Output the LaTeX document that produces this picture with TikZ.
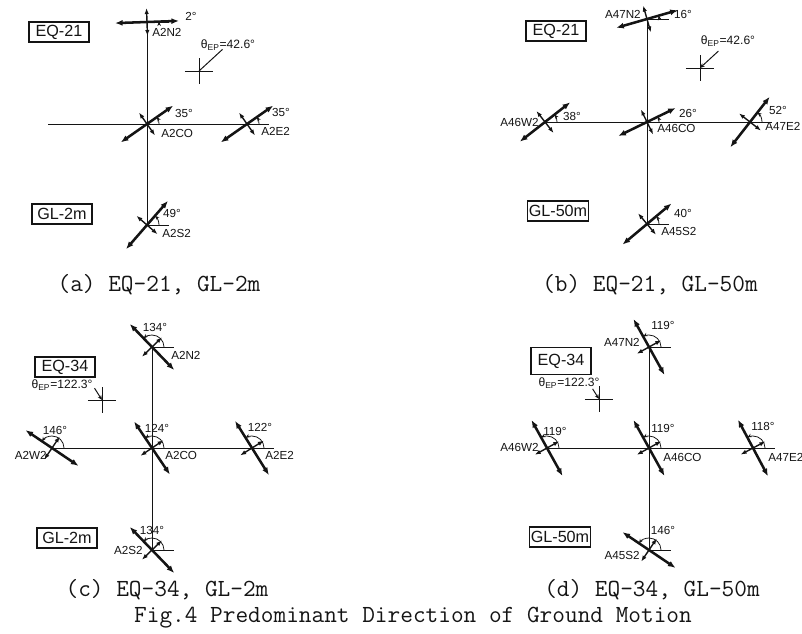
\documentclass[tikz,border=0pt]{standalone}
\usepackage{fontspec}
\newfontfamily\lblfont{Liberation Sans}
\usetikzlibrary{arrows.meta}
\definecolor{Ink}{HTML}{141414}
\tikzset{
  >=Latex,
  every node/.style={text=Ink},
  axisline/.style={draw=Ink, line width=0.7pt},
  majoraxis/.style={draw=Ink, line width=1.8pt,
    {Latex[length=1.9mm,width=1.5mm]}-{Latex[length=1.9mm,width=1.5mm]}},
  minoraxis/.style={draw=Ink, line width=1.0pt,
    {Latex[length=1.5mm,width=1.1mm]}-{Latex[length=1.5mm,width=1.1mm]}},
  anglearc/.style={draw=Ink, line width=0.55pt, -{Stealth[length=1.1mm,width=0.9mm]}},
  anglbl/.style={font=\lblfont\fontsize{8.3}{9}\selectfont, inner sep=0pt},
  stnlbl/.style={font=\lblfont\fontsize{8.3}{9}\selectfont, inner sep=0pt},
  eqbox/.style={draw=Ink, line width=0.8pt, font=\lblfont\fontsize{11.5}{12}\selectfont,
    minimum width=1.5cm, minimum height=0.5cm, inner sep=1pt},
  eplbl/.style={font=\lblfont\fontsize{8.6}{9}\selectfont, inner sep=0pt},
  epcross/.style={draw=Ink, line width=0.7pt},
  eparrow/.style={draw=Ink, line width=0.7pt, -{Stealth[length=1.2mm,width=1mm]}},
  caplbl/.style={font=\ttfamily\fontsize{17.5}{20}\selectfont, inner sep=0pt},
  pics/motion/.style args={#1/#2}{code={
    \draw[axisline] (0,0) -- (22,0);
    \draw[minoraxis] (#1+90:14) -- (#1-90:14);
    \draw[majoraxis] (#1+180:32) -- (#1:32);
    \draw[anglearc] (12,0) arc[start angle=0, end angle=#1, radius=12];
    \node[anglbl] (-ang) at (#2) {#1°};
  }},
}

\begin{document}
\begin{tikzpicture}[x=0.025cm,y=0.025cm]
  \useasboundingbox (0,0) rectangle (802,-633);

  % (a) EQ-21 recorded at GL-2m.
  \coordinate (aN) at (147,-22);
  \coordinate (aC) at (147,-124);
  \coordinate (aE) at (247,-124);
  \coordinate (aS) at (147,-225);
  \coordinate (aW) at (48,-124);
  \draw[axisline] (aN) -- (aS);
  \draw[axisline] (aW) -- (aE);
  \pic (aNm) at (aN) {motion={2/44,6}};
  \pic (aCm) at (aC) {motion={35/37,11}};
  \pic (aEm) at (aE) {motion={35/34,12}};
  \pic (aSm) at (aS) {motion={49/25,12}};
  \node[stnlbl, anchor=west] (aNl) at ([shift={(5,-10)}]aN) {A2N2};
  \node[stnlbl, anchor=west] (aCl) at ([shift={(14,-9)}]aC) {A2CO};
  \node[stnlbl, anchor=west] (aEl) at ([shift={(14,-7)}]aE) {A2E2};
  \node[stnlbl, anchor=west] (aSl) at ([shift={(15,-8)}]aS) {A2S2};
  \node[eqbox] (aEQ) at (59,-32) {EQ-21};
  \node[eqbox] (aGL) at (62,-214) {GL-2m};
  \coordinate (aEP) at (199,-71);
  \draw[epcross] ([xshift=-10]aEP) -- ([xshift=10]aEP)
    ([yshift=-9]aEP) -- ([yshift=9]aEP);
  \draw[epcross] ([shift={(42.6:32)}]aEP) -- (aEP);
  \node[eplbl] (aEPl) at (228,-45) {θ\textsubscript{EP}=42.6°};
  \node[caplbl] (aCap) at (159,-285) {(a) EQ-21, GL-2m};

  % (b) EQ-21 recorded at GL-50m.
  \coordinate (bN) at (647,-19);
  \coordinate (bC) at (647,-122);
  \coordinate (bE) at (750,-122);
  \coordinate (bS) at (647,-224);
  \coordinate (bW) at (545,-122);
  \draw[axisline] (bN) -- (bS);
  \draw[axisline] (bW) -- (bE);
  \pic (bNm) at (bN) {motion={16/36,5}};
  \pic (bCm) at (bC) {motion={26/41,9}};
  \pic (bEm) at (bE) {motion={52/28,12}};
  \pic (bWm) at (bW) {motion={38/27,6}};
  \pic (bSm) at (bS) {motion={40/36,11}};
  \node[stnlbl, anchor=east] (bNl) at ([shift={(-6,5)}]bN) {A47N2};
  \node[stnlbl, anchor=west] (bCl) at ([shift={(10,-6)}]bC) {A46CO};
  \node[stnlbl, anchor=west] (bEl) at ([shift={(15,-4)}]bE) {A47E2};
  \node[stnlbl, anchor=east] (bWl) at ([shift={(-6,0)}]bW) {A46W2};
  \node[stnlbl, anchor=west] (bSl) at ([shift={(14,-7)}]bS) {A45S2};
  \node[eqbox] (bEQ) at (556,-31) {EQ-21};
  \node[eqbox] (bGL) at (558,-211) {GL-50m};
  \coordinate (bEP) at (700,-68);
  \draw[epcross] ([xshift=-10]bEP) -- ([xshift=10]bEP)
    ([yshift=-9]bEP) -- ([yshift=9]bEP);
  \draw[eparrow] ([shift={(42.6:25)}]bEP) -- (bEP);
  \node[eplbl] (bEPl) at (728,-41) {θ\textsubscript{EP}=42.6°};
  \node[caplbl] (bCap) at (650,-285) {(b) EQ-21, GL-50m};

  % (c) EQ-34 recorded at GL-2m.
  \coordinate (cN) at (152,-347);
  \coordinate (cC) at (152,-448);
  \coordinate (cE) at (252,-448);
  \coordinate (cS) at (152,-550);
  \coordinate (cW) at (52,-448);
  \draw[axisline] (cN) -- (cS);
  \draw[axisline] (cW) -- (cE);
  \pic (cNm) at (cN) {motion={134/3,20}};
  \pic (cCm) at (cC) {motion={124/5,20}};
  \pic (cEm) at (cE) {motion={122/8,21}};
  \pic (cWm) at (cW) {motion={146/3,18}};
  \pic (cSm) at (cS) {motion={134/0,20}};
  \node[stnlbl, anchor=west] (cNl) at ([shift={(19,-8)}]cN) {A2N2};
  \node[stnlbl, anchor=west] (cCl) at ([shift={(13,-7)}]cC) {A2CO};
  \node[stnlbl, anchor=west] (cEl) at ([shift={(13,-7)}]cE) {A2E2};
  \node[stnlbl, anchor=east] (cWl) at ([shift={(-5,-7)}]cW) {A2W2};
  \node[stnlbl, anchor=east] (cSl) at ([shift={(-9,0)}]cS) {A2S2};
  \node[eqbox] (cEQ) at (65,-367) {EQ-34};
  \node[eqbox] (cGL) at (67,-538) {GL-2m};
  \coordinate (cEP) at (102,-400);
  \draw[epcross] ([xshift=-10]cEP) -- ([xshift=10]cEP)
    ([yshift=-9]cEP) -- ([yshift=9]cEP);
  \draw[eparrow] ([shift={(122.3:14)}]cEP) -- (cEP);
  \node[eplbl] (cEPl) at (62,-385) {θ\textsubscript{EP}=122.3°};
  \node[caplbl] (cCap) at (167,-590) {(c) EQ-34, GL-2m};

  % (d) EQ-34 recorded at GL-50m.
  \coordinate (dN) at (649,-347);
  \coordinate (dC) at (649,-448);
  \coordinate (dE) at (753,-448);
  \coordinate (dS) at (649,-550);
  \coordinate (dW) at (547,-448);
  \draw[axisline] (dN) -- (dS);
  \draw[axisline] (dW) -- (dE);
  \pic (dNm) at (dN) {motion={119/14,22}};
  \pic (dCm) at (dC) {motion={119/14,20}};
  \pic (dEm) at (dE) {motion={118/10,22}};
  \pic (dWm) at (dW) {motion={119/8,17}};
  \pic (dSm) at (dS) {motion={146/14,20}};
  \node[stnlbl, anchor=east] (dNl) at ([shift={(-9,5)}]dN) {A47N2};
  \node[stnlbl, anchor=west] (dCl) at ([shift={(14,-9)}]dC) {A46CO};
  \node[stnlbl, anchor=west] (dEl) at ([shift={(15,-9)}]dE) {A47E2};
  \node[stnlbl, anchor=east] (dWl) at ([shift={(-8,1)}]dW) {A46W2};
  \node[stnlbl, anchor=east] (dSl) at ([shift={(-9,-5)}]dS) {A45S2};
  \node[eqbox, minimum height=0.68cm] (dEQ) at (561,-361) {EQ-34};
  \node[eqbox] (dGL) at (560,-537) {GL-50m};
  \coordinate (dEP) at (599,-399);
  \draw[epcross] ([xshift=-10]dEP) -- ([xshift=10]dEP)
    ([yshift=-9]dEP) -- ([yshift=9]dEP);
  \draw[eparrow] ([shift={(122.3:12)}]dEP) -- (dEP);
  \node[eplbl] (dEPl) at (569,-383) {θ\textsubscript{EP}=122.3°};
  \node[caplbl] (dCap) at (652,-590) {(d) EQ-34, GL-50m};

  \node[caplbl] (figCap) at (413,-618)
    {Fig.4 Predominant Direction of Ground Motion};
\end{tikzpicture}
\end{document}
